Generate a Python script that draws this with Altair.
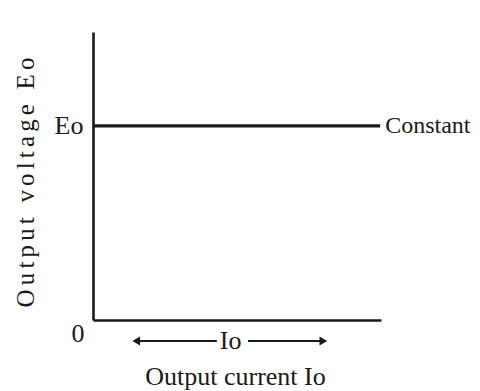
import altair as alt
import pandas as pd

# Constant-voltage characteristic (normalized units)
io_values = [0.0, 0.997]
eo_values = [0.674, 0.674]
line_label = "Constant"

# Current-range arrow below the axis (normalized units)
arrow_left = [0.15, 0.43]
arrow_right = [0.538, 0.80]
arrow_level = -0.073
arrow_text = "Io"
arrow_text_x = 0.478

y_title_text = "Output voltage Eo"
x_title_text = "Output current Io"
y_tick_label = "Eo"
origin_label = "0"

FONT = "Liberation Serif"
FS = 26
INK = "#1a1a1a"


def spaced(s, sep="\u2006"):
    return sep.join(list(s))


line_df = pd.DataFrame({"io": io_values, "eo": eo_values})
end_df = pd.DataFrame({"io": [io_values[-1]], "eo": [eo_values[-1]], "label": [line_label]})
seg_df = pd.DataFrame({
    "x": [arrow_left[0], arrow_right[0]],
    "x2": [arrow_left[1], arrow_right[1]],
    "y": [arrow_level, arrow_level],
})
head_df = pd.DataFrame({
    "x": [arrow_left[0], arrow_right[1]],
    "y": [arrow_level, arrow_level],
    "shape": ["triangle-left", "triangle-right"],
})
io_df = pd.DataFrame({"x": [arrow_text_x], "y": [arrow_level], "t": [arrow_text]})

xs = alt.Scale(domain=[0, 1], nice=False, zero=False)
ys = alt.Scale(domain=[0, 1], nice=False, zero=False)

base_line = alt.Chart(line_df).mark_line(color=INK, strokeWidth=3.4).encode(
    x=alt.X(
        "io:Q", scale=xs,
        axis=alt.Axis(
            values=[0], labelExpr=f"'{origin_label}'", ticks=False, grid=False,
            labelFont=FONT, labelFontSize=FS, labelColor=INK,
            labelAlign="right", labelOffset=-9, labelPadding=0,
            domainColor=INK, domainWidth=2.6,
            title=x_title_text, titleFont=FONT, titleFontSize=FS, titleFontWeight="normal",
            titleColor=INK, titleX=142, titleY=64, titleAlign="center",
            titleBaseline="alphabetic",
        ),
    ),
    y=alt.Y(
        "eo:Q", scale=ys,
        axis=alt.Axis(
            values=[eo_values[0]], labelExpr=f"'{y_tick_label}'", ticks=False, grid=False,
            labelFont=FONT, labelFontSize=FS, labelColor=INK, labelPadding=10,
            domainColor=INK, domainWidth=2.6,
            title=spaced(y_title_text), titleFont=FONT, titleFontSize=25,
            titleFontWeight="normal", titleColor=INK,
            titleX=-68, titleY=150, titleAlign="center", titleBaseline="middle",
            titleAngle=270,
        ),
    ),
)

end_text = alt.Chart(end_df).mark_text(
    align="left", baseline="middle", dx=5, font=FONT, fontSize=24, color=INK
).encode(x=alt.X("io:Q", scale=xs), y=alt.Y("eo:Q", scale=ys), text="label:N")

segs = alt.Chart(seg_df).mark_rule(color=INK, strokeWidth=2).encode(
    x=alt.X("x:Q", scale=xs), x2="x2:Q", y=alt.Y("y:Q", scale=ys)
)

heads = alt.Chart(head_df).mark_point(filled=True, color=INK, size=80, opacity=1).encode(
    x=alt.X("x:Q", scale=xs), y=alt.Y("y:Q", scale=ys),
    shape=alt.Shape("shape:N", scale=None),
)

io_text = alt.Chart(io_df).mark_text(
    align="center", baseline="middle", font=FONT, fontSize=FS, color=INK
).encode(x=alt.X("x:Q", scale=xs), y=alt.Y("y:Q", scale=ys), text="t:N")

chart = alt.layer(base_line, end_text, segs, heads, io_text).properties(
    width=288, height=288,
    autosize=alt.AutoSizeParams(type="none"),
    padding={"left": 85, "top": 24, "right": 91, "bottom": 72},
).configure(background="white").configure_view(stroke=None, strokeWidth=0)

chart.save("out.html", embed_options={"renderer": "svg", "actions": False})
